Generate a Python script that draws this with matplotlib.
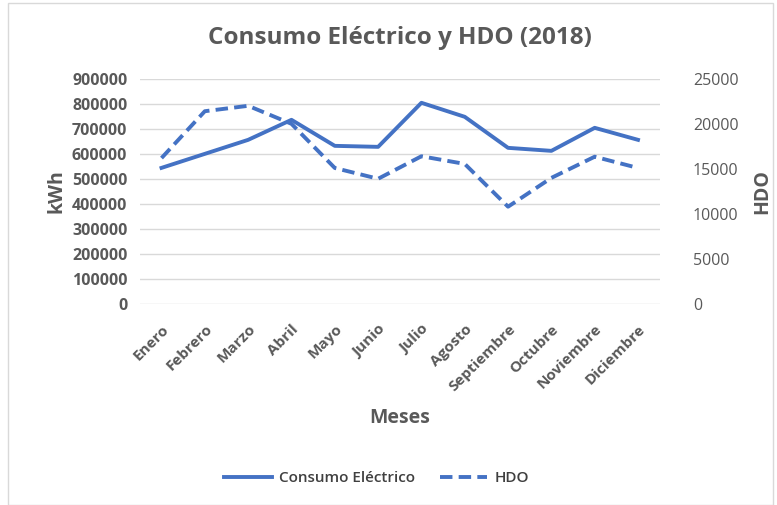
import matplotlib.pyplot as plt
from matplotlib.patches import Rectangle

meses = ['Enero', 'Febrero', 'Marzo', 'Abril', 'Mayo', 'Junio', 'Julio',
         'Agosto', 'Septiembre', 'Octubre', 'Noviembre', 'Diciembre']
consumo = [544000, 600000, 656000, 736000, 632000, 628000, 804000,
           748000, 624000, 612000, 704000, 656000]
hdo = [16200, 21400, 22000, 20000, 15100, 13900, 16400,
       15550, 10800, 14000, 16350, 15100]

azul = '#4472C4'
gris = '#595959'
plt.rcParams['font.family'] = ['Open Sans', 'DejaVu Sans']

fig = plt.figure(figsize=(7.77, 5.05), dpi=100)
ax = fig.add_axes([0.180, 0.398, 0.669, 0.446])
ax2 = ax.twinx()

x = list(range(len(meses)))
l1, = ax.plot(x, consumo, color=azul, lw=2.8, label='Consumo Eléctrico')
l2, = ax2.plot(x, hdo, color=azul, lw=2.8, ls=(0, (3.2, 1.6)), label='HDO')

ax.set_ylim(0, 900000)
ax.set_yticks(range(0, 900001, 100000))
ax2.set_ylim(0, 25000)
ax2.set_yticks(range(0, 25001, 5000))
ax.set_xlim(-0.5, 11.5)
ax.grid(axis='y', color='#d9d9d9', lw=1)
ax.set_axisbelow(True)

for a in (ax, ax2):
    for s in a.spines.values():
        s.set_visible(False)
    a.tick_params(length=0)

ax.set_xticks(x)
ax.set_xticklabels(meses, rotation=45, ha='right', rotation_mode='anchor',
                   fontsize=11, fontweight='bold', color=gris)
for lbl in ax.get_yticklabels():
    lbl.set_fontsize(11.5)
    lbl.set_fontweight('bold')
    lbl.set_color(gris)
for lbl in ax2.get_yticklabels():
    lbl.set_fontsize(11.5)
    lbl.set_color(gris)
ax.tick_params(axis='y', pad=9)
ax2.tick_params(axis='y', pad=24)
ax.tick_params(axis='x', pad=13)

ax.set_ylabel('kWh', fontsize=14, fontweight='bold', color=gris, labelpad=4)
ax2.set_ylabel('HDO', fontsize=14, fontweight='bold', color=gris, labelpad=10)
ax.set_xlabel('Meses', fontsize=14, fontweight='bold', color=gris, labelpad=10)

fig.text(0.515, 0.925, 'Consumo Eléctrico y HDO (2018)', ha='center', va='center',
         fontsize=17.5, fontweight='bold', color=gris)

leg = fig.legend(handles=[l1, l2], loc='center', bbox_to_anchor=(0.485, 0.053),
                 ncol=2, frameon=False, handlelength=3.1, handletextpad=0.5,
                 columnspacing=1.6, prop={'size': 11, 'weight': 'semibold'})
for t in leg.get_texts():
    t.set_color('#404040')

fig.patches.append(Rectangle((0.01, 0.0), 0.985, 0.995, transform=fig.transFigure,
                             fill=False, edgecolor='#d9d9d9', lw=1))

fig.savefig('out.png', dpi=100)
